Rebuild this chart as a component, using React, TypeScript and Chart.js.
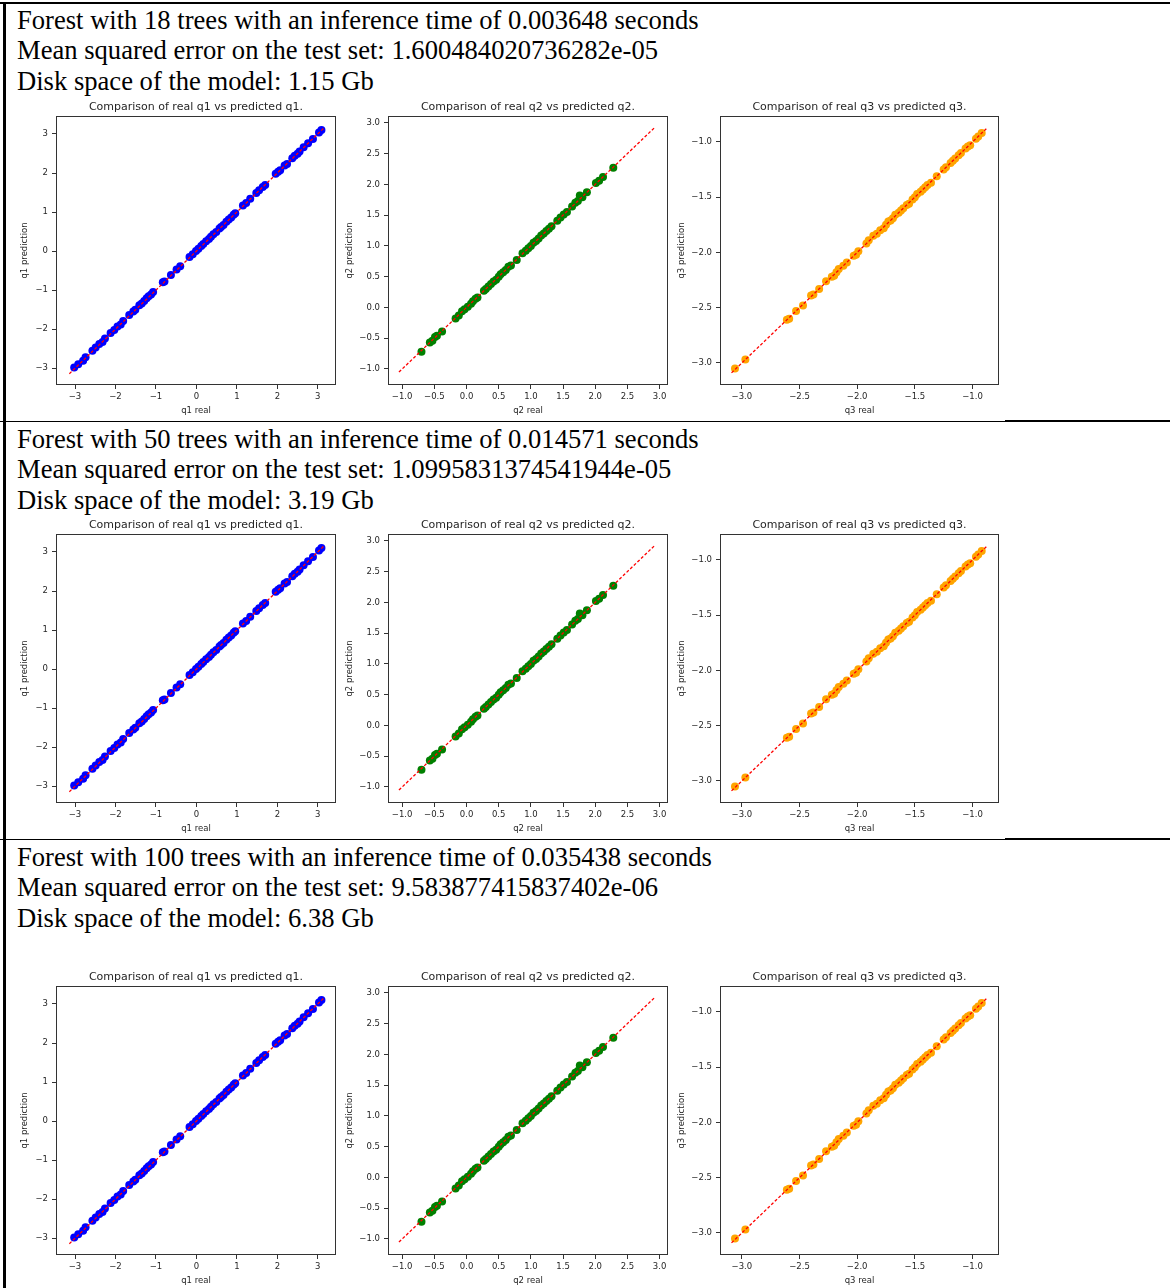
import React, { useEffect, useRef } from "react";
import { Chart, registerables } from "chart.js";

Chart.register(...registerables);

// ---------- header texts ----------
const forestTrees = [18, 50, 100];
const inferenceTimes = ["0.003648", "0.014571", "0.035438"];
const mseValues = ["1.600484020736282e-05", "1.0995831374541944e-05", "9.583877415837402e-06"];
const diskSpaces = ["1.15", "3.19", "6.38"];

// ---------- q1 ----------
const q1Real = [-3.02, -2.92, -2.8, -2.74, -2.57, -2.49, -2.4, -2.32, -2.26, -2.12, -2.03, -1.95, -1.87, -1.81, -1.66, -1.56, -1.51, -1.41, -1.35, -1.29, -1.23, -1.18, -1.12, -1.07, -0.83, -0.79, -0.63, -0.49, -0.4, -0.17, -0.09, -0.01, 0.05, 0.12, 0.17, 0.24, 0.31, 0.36, 0.42, 0.49, 0.57, 0.61, 0.67, 0.74, 0.8, 0.86, 0.92, 0.96, 1.15, 1.23, 1.33, 1.48, 1.55, 1.64, 1.7, 1.96, 2.02, 2.07, 2.18, 2.24, 2.37, 2.43, 2.5, 2.55, 2.65, 2.76, 2.88, 3.03, 3.09];
const q1Pred = [-2.98, -2.9, -2.81, -2.72, -2.55, -2.47, -2.38, -2.33, -2.24, -2.1, -2.02, -1.93, -1.88, -1.79, -1.64, -1.55, -1.5, -1.39, -1.34, -1.28, -1.21, -1.16, -1.11, -1.05, -0.8, -0.78, -0.61, -0.47, -0.39, -0.15, -0.08, 0.0, 0.06, 0.13, 0.18, 0.25, 0.31, 0.37, 0.43, 0.49, 0.58, 0.62, 0.67, 0.75, 0.81, 0.86, 0.93, 0.97, 1.17, 1.23, 1.34, 1.49, 1.56, 1.64, 1.69, 1.98, 2.03, 2.07, 2.19, 2.23, 2.38, 2.44, 2.49, 2.55, 2.66, 2.76, 2.87, 3.04, 3.1];
const q1Line = [-3.14, 3.14];
const q1Ticks = [-3, -2, -1, 0, 1, 2, 3];

// ---------- q2 ----------
const q2Real = [-0.7, -0.57, -0.53, -0.49, -0.46, -0.38, -0.17, -0.12, -0.07, -0.03, 0.02, 0.07, 0.1, 0.14, 0.17, 0.27, 0.3, 0.34, 0.38, 0.42, 0.46, 0.5, 0.53, 0.57, 0.61, 0.65, 0.69, 0.78, 0.87, 0.92, 0.96, 1.0, 1.04, 1.08, 1.12, 1.16, 1.2, 1.24, 1.28, 1.32, 1.41, 1.46, 1.51, 1.56, 1.64, 1.69, 1.73, 1.76, 1.8, 1.87, 2.01, 2.06, 2.12, 2.28];
const q2Pred = [-0.72, -0.57, -0.54, -0.48, -0.46, -0.39, -0.18, -0.13, -0.06, -0.03, 0.01, 0.06, 0.1, 0.14, 0.16, 0.27, 0.3, 0.34, 0.38, 0.42, 0.45, 0.5, 0.54, 0.57, 0.61, 0.66, 0.68, 0.77, 0.88, 0.92, 0.96, 1.0, 1.05, 1.08, 1.12, 1.17, 1.2, 1.24, 1.28, 1.32, 1.41, 1.46, 1.51, 1.55, 1.64, 1.7, 1.73, 1.82, 1.79, 1.87, 2.02, 2.06, 2.12, 2.27];
const q2Line = [-1.05, 2.92];
const q2Ticks = [-1.0, -0.5, 0.0, 0.5, 1.0, 1.5, 2.0, 2.5, 3.0];

// ---------- q3 ----------
const q3Real = [-3.06, -2.97, -2.61, -2.59, -2.53, -2.47, -2.4, -2.38, -2.33, -2.27, -2.22, -2.2, -2.18, -2.16, -2.12, -2.09, -2.03, -2.01, -1.99, -1.92, -1.9, -1.86, -1.83, -1.8, -1.77, -1.75, -1.73, -1.71, -1.69, -1.67, -1.64, -1.62, -1.6, -1.57, -1.55, -1.52, -1.5, -1.48, -1.45, -1.43, -1.41, -1.39, -1.36, -1.31, -1.25, -1.23, -1.19, -1.17, -1.15, -1.12, -1.1, -1.06, -1.04, -1.02, -0.97, -0.95, -0.92];
const q3Pred = [-3.05, -2.97, -2.61, -2.6, -2.53, -2.48, -2.39, -2.38, -2.33, -2.26, -2.22, -2.21, -2.18, -2.15, -2.12, -2.09, -2.03, -2.02, -1.99, -1.92, -1.89, -1.85, -1.83, -1.8, -1.78, -1.75, -1.72, -1.71, -1.69, -1.66, -1.64, -1.62, -1.6, -1.57, -1.56, -1.52, -1.5, -1.47, -1.45, -1.43, -1.41, -1.39, -1.37, -1.31, -1.25, -1.23, -1.19, -1.17, -1.15, -1.12, -1.1, -1.06, -1.04, -1.03, -0.97, -0.95, -0.92];
const q3Line = [-3.09, -0.88];
const q3Ticks = [-3.0, -2.5, -2.0, -1.5, -1.0];

const rowOffsets = [0, 418, 870];
const headerOffsets = [0, 419, 837];

const TXT = "#262626";
const FRAME = "#333333";
const FONT = "DejaVu Sans";

const fmt = (v: number, d: number) => (v < 0 ? "\u2212" : "") + Math.abs(v).toFixed(d);

const framePlugin = {
  id: "frame",
  afterDatasetsDraw(chart: any) {
    const { ctx, chartArea: a } = chart;
    ctx.save();
    ctx.strokeStyle = FRAME;
    ctx.lineWidth = 1;
    ctx.strokeRect(Math.round(a.left) + 0.5, Math.round(a.top) + 0.5, Math.round(a.right - a.left) - 1, Math.round(a.bottom - a.top) - 1);
    ctx.restore();
  },
};

type PanelSpec = {
  name: string;
  real: number[];
  pred: number[];
  line: number[];
  ticks: number[];
  decimals: number;
  xMin: number;
  xMax: number;
  yMin: number;
  yMax: number;
  color: string;
  cx: number;
  areaLeft: number;
  areaRight: number;
};

const panels: PanelSpec[] = [
  { name: "q1", real: q1Real, pred: q1Pred, line: q1Line, ticks: q1Ticks, decimals: 0, xMin: -3.47, xMax: 3.45, yMin: -3.43, yMax: 3.46, color: "#0000ff", cx: 20, areaLeft: 56, areaRight: 336 },
  { name: "q2", real: q2Real, pred: q2Pred, line: q2Line, ticks: q2Ticks, decimals: 1, xMin: -1.22, xMax: 3.13, yMin: -1.26, yMax: 3.11, color: "#008000", cx: 345, areaLeft: 388, areaRight: 668 },
  { name: "q3", real: q3Real, pred: q3Pred, line: q3Line, ticks: q3Ticks, decimals: 1, xMin: -3.19, xMax: -0.77, yMin: -3.2, yMax: -0.765, color: "#ffa500", cx: 677, areaLeft: 720, areaRight: 999 },
];

const CANVAS_TOP = 96;
const AREA_BOTTOM = 385;
const CANVAS_BOTTOM = 416;

function Panel({ spec, rowOffset }: { spec: PanelSpec; rowOffset: number }) {
  const ref = useRef<HTMLCanvasElement | null>(null);
  const width = spec.areaRight + 10 - spec.cx;
  const height = CANVAS_BOTTOM - CANVAS_TOP;
  useEffect(() => {
    const font = { family: FONT, size: 8.5, weight: "normal" as const };
    const scatterData = spec.real.map((x, i) => ({ x, y: spec.pred[i] }));
    const lineData = spec.line.map((v) => ({ x: v, y: v }));
    const chart = new Chart(ref.current as HTMLCanvasElement, {
      type: "scatter",
      data: {
        datasets: [
          {
            type: "line",
            data: lineData,
            borderColor: "#ff0000",
            borderWidth: 1.3,
            borderDash: [3, 2],
            pointRadius: 0,
            fill: false,
            order: 0,
          } as any,
          {
            type: "scatter",
            data: scatterData,
            backgroundColor: spec.color,
            borderColor: spec.color,
            borderWidth: 0,
            pointRadius: 4,
            order: 1,
          },
        ],
      },
      options: {
        responsive: false,
        animation: false,
        events: [],
        layout: { padding: { left: 0, right: 10, top: 0, bottom: 0 } },
        plugins: {
          legend: { display: false },
          tooltip: { enabled: false },
          title: {
            display: true,
            text: `Comparison of real ${spec.name} vs predicted ${spec.name}.`,
            fullSize: false,
            color: TXT,
            font: { family: FONT, size: 11, weight: "normal", lineHeight: 1.2 },
            padding: { top: 4.6, bottom: 2.2 },
          },
        },
        scales: {
          x: {
            type: "linear",
            position: "bottom",
            min: spec.xMin,
            max: spec.xMax,
            afterBuildTicks: (s: any) => {
              s.ticks = spec.ticks.map((v) => ({ value: v }));
            },
            afterFit: (s: any) => {
              s.height = CANVAS_BOTTOM - AREA_BOTTOM;
            },
            ticks: {
              callback: (v: any) => fmt(Number(v), spec.decimals),
              color: TXT,
              font,
              padding: 3,
              autoSkip: false,
              maxRotation: 0,
            },
            grid: { drawOnChartArea: false, drawTicks: true, tickLength: 4, color: FRAME },
            border: { display: false },
            title: { display: true, text: `${spec.name} real`, color: TXT, font, padding: 0 },
          },
          y: {
            type: "linear",
            position: "left",
            min: spec.yMin,
            max: spec.yMax,
            afterBuildTicks: (s: any) => {
              s.ticks = spec.ticks.map((v) => ({ value: v }));
            },
            afterFit: (s: any) => {
              s.width = spec.areaLeft - spec.cx;
            },
            ticks: {
              callback: (v: any) => fmt(Number(v), spec.decimals),
              color: TXT,
              font,
              padding: 4,
              autoSkip: false,
            },
            grid: { drawOnChartArea: false, drawTicks: true, tickLength: 4, color: FRAME },
            border: { display: false },
            title: { display: true, text: `${spec.name} prediction`, color: TXT, font, padding: 0 },
          },
        },
      },
      plugins: [framePlugin],
    });
    return () => chart.destroy();
  }, []);
  return (
    <canvas
      ref={ref}
      width={width}
      height={height}
      style={{ position: "absolute", left: spec.cx, top: CANVAS_TOP + rowOffset, width, height }}
    />
  );
}

const serif: React.CSSProperties = {
  position: "absolute",
  left: 17,
  fontFamily: "'Liberation Serif', 'Times New Roman', serif",
  fontSize: "26.6px",
  lineHeight: "30.6px",
  whiteSpace: "nowrap",
  color: "#000",
};

export default function App() {
  return (
    <div style={{ position: "absolute", left: 0, top: 0, width: 1170, height: 1288, background: "#fff", overflow: "hidden" }}>
      {/* borders */}
      <div style={{ position: "absolute", left: 0, top: 2, width: 1170, height: 2, background: "#000" }} />
      <div style={{ position: "absolute", left: 3, top: 2, width: 2.5, height: 1286, background: "#000" }} />
      {[420, 838].map((y) => (
        <React.Fragment key={y}>
          <div style={{ position: "absolute", left: 0, top: y + 1, width: 1005, height: 1, background: "#000" }} />
          <div style={{ position: "absolute", left: 1005, top: y, width: 165, height: 2, background: "#000" }} />
        </React.Fragment>
      ))}
      {forestTrees.map((n, r) => (
        <div key={r} style={{ ...serif, top: 4.8 + headerOffsets[r] }}>
          <div>{`Forest with ${n} trees with an inference time of ${inferenceTimes[r]} seconds`}</div>
          <div>{`Mean squared error on the test set: ${mseValues[r]}`}</div>
          <div>{`Disk space of the model: ${diskSpaces[r]} Gb`}</div>
        </div>
      ))}
      {rowOffsets.map((off, r) =>
        panels.map((p) => <Panel key={`${r}-${p.name}`} spec={p} rowOffset={off} />)
      )}
    </div>
  );
}
